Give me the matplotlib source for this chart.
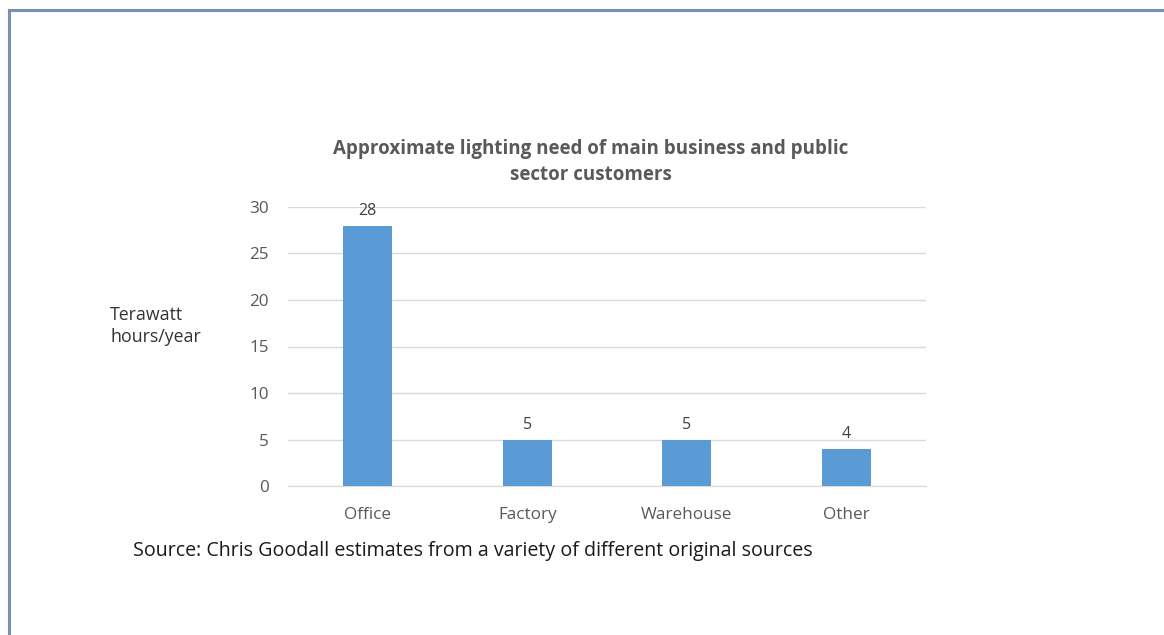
import matplotlib
matplotlib.use("Agg")
import matplotlib.pyplot as plt

categories = ["Office", "Factory", "Warehouse", "Other"]
values = [28, 5, 5, 4]
yticks = [0, 5, 10, 15, 20, 25, 30]

title = "Approximate lighting need of main business and public\nsector customers"
ylabel = "Terawatt\nhours/year"
source = "Source: Chris Goodall estimates from a variety of different original sources"

plt.rcParams["font.family"] = ["Open Sans", "DejaVu Sans"]

W, H = 1164, 635
fig = plt.figure(figsize=(W / 100, H / 100), dpi=100)
fig.patch.set_facecolor("white")

# slide frame (top and left edges visible)
fig.add_artist(plt.Line2D([9 / W, 9 / W], [0, 1 - 10 / H], transform=fig.transFigure,
                          color="#7890b4", lw=2.2))
fig.add_artist(plt.Line2D([9 / W, 1], [1 - 10 / H, 1 - 10 / H], transform=fig.transFigure,
                          color="#7890b4", lw=2.2))

x0, x1 = 288, 926
y0, y1 = 486, 207
ax = fig.add_axes([x0 / W, 1 - y0 / H, (x1 - x0) / W, (y0 - y1) / H])
ax.set_xlim(-0.5, len(categories) - 0.5)
ax.set_ylim(0, 30)

bars = ax.bar(range(len(categories)), values, width=0.31, color="#5b9bd5", zorder=3)
for b, v in zip(bars, values):
    ax.text(b.get_x() + b.get_width() / 2, v + 0.75, str(v), ha="center", va="bottom",
            fontsize=11.5, color="#404040")

ax.set_yticks(yticks)
ax.set_xticks(range(len(categories)))
ax.set_xticklabels(categories, fontsize=12.3, color="#595959")
ax.tick_params(axis="y", labelsize=12.3, labelcolor="#595959", length=0, pad=14)
ax.tick_params(axis="x", length=0, pad=15)
ax.grid(axis="y", color="#d9d9d9", lw=1, zorder=0)
for s in ["top", "right", "left"]:
    ax.spines[s].set_visible(False)
ax.spines["bottom"].set_color("#d9d9d9")

fig.text(591 / W, 1 - 162 / H, title, ha="center", va="center", fontsize=13.5,
         fontweight="bold", color="#595959", linespacing=1.45)
fig.text(110 / W, 1 - 326 / H, ylabel, ha="left", va="center", fontsize=12.8,
         color="#333333", linespacing=1.35)
fig.text(133 / W, 1 - 551 / H, source, ha="left", va="center", fontsize=14.1,
         color="#1a1a1a")

fig.savefig("out.png", dpi=100, facecolor="white")
